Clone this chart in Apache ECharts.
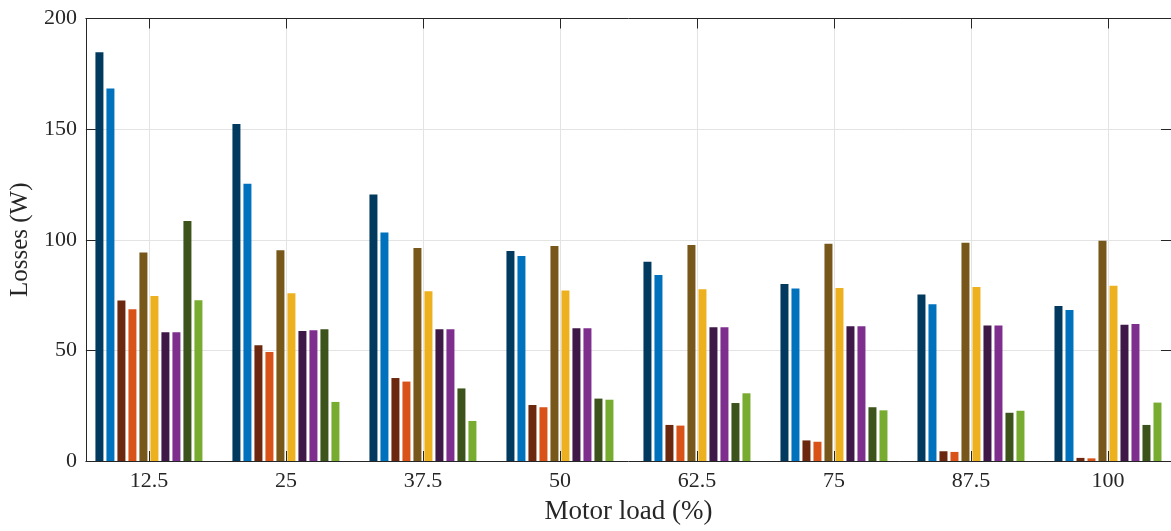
<!DOCTYPE html>
<html>
<head>
<meta charset="utf-8">
<script src="https://cdn.jsdelivr.net/npm/echarts@6/dist/echarts.min.js"></script>
<style>
html,body{margin:0;padding:0;background:#fff;}
#chart{width:1171px;height:531px;}
</style>
</head>
<body>
<div id="chart"></div>
<script>
// Motor load categories (%)
const loads = [12.5, 25, 37.5, 50, 62.5, 75, 87.5, 100];
const yTicks = [0, 50, 100, 150, 200];

// Losses (W) per series, one value per motor load
const s1  = [184.7, 152.3, 120.5, 94.9, 90.1, 80.0, 75.3, 70.1];
const s2  = [168.4, 125.3, 103.3, 92.7, 84.1, 78.0, 70.8, 68.2];
const s3  = [72.5, 52.3, 37.5, 25.3, 16.3, 9.3, 4.4, 1.4];
const s4  = [68.6, 49.3, 35.9, 24.3, 16.0, 8.7, 4.1, 1.2];
const s5  = [94.2, 95.2, 96.3, 97.2, 97.6, 98.2, 98.7, 99.6];
const s6  = [74.6, 75.8, 76.7, 77.1, 77.6, 78.2, 78.6, 79.2];
const s7  = [58.2, 58.8, 59.5, 60.0, 60.4, 60.9, 61.2, 61.6];
const s8  = [58.2, 59.1, 59.5, 60.0, 60.4, 60.9, 61.2, 61.9];
const s9  = [108.5, 59.5, 32.8, 28.2, 26.2, 24.3, 21.8, 16.3];
const s10 = [72.6, 26.7, 18.1, 27.7, 30.6, 22.9, 22.7, 26.4];

const seriesData = [s1, s2, s3, s4, s5, s6, s7, s8, s9, s10];
const colors = ['#013A5E', '#0072BD', '#6B280E', '#D95319', '#77571A', '#EDB120', '#3E1846', '#7E2F8E', '#3C531C', '#77AC30'];

const FONT = '"Liberation Serif", "Times New Roman", serif';
const AX = '#262626';

const chart = echarts.init(document.getElementById('chart'), null, {renderer: 'canvas'});

const series = seriesData.map((arr, i) => ({
  type: 'bar',
  name: 'S' + (i + 1),
  xAxisIndex: 0,
  yAxisIndex: 0,
  data: arr.map((v, k) => [loads[k], v]),
  barWidth: 8,
  barGap: '37.5%',
  itemStyle: {color: colors[i]},
  animation: false
}));

chart.setOption({
  backgroundColor: '#fff',
  animation: false,
  grid: {left: 83.5, top: 18.5, width: 1090, height: 442.5, containLabel: false},
  xAxis: [{
    type: 'value',
    position: 'bottom',
    min: 6.75, max: 105.75,
    name: 'Motor load (%)',
    nameLocation: 'middle',
    nameGap: 37,
    nameTextStyle: {fontFamily: FONT, fontSize: 27, color: AX},
    axisLine: {show: true, onZero: false, lineStyle: {color: AX, width: 1}},
    axisTick: {show: true, inside: true, length: 10, customValues: loads, lineStyle: {color: AX}},
    axisLabel: {show: true, customValues: loads, margin: 9, fontFamily: FONT, fontSize: 22, color: AX},
    splitLine: {show: true, lineStyle: {color: '#e3e3e3', width: 1}},
    minorTick: {show: false}
  }, {
    type: 'value',
    position: 'top',
    min: 6.75, max: 105.75,
    axisLine: {show: true, onZero: false, lineStyle: {color: AX, width: 1}},
    axisTick: {show: true, inside: true, length: 10, customValues: loads, lineStyle: {color: AX}},
    axisLabel: {show: false},
    splitLine: {show: false}
  }],
  yAxis: [{
    type: 'value',
    position: 'left',
    min: 0, max: 200, interval: 50,
    name: 'Losses (W)',
    nameLocation: 'middle',
    nameGap: 50,
    nameTextStyle: {fontFamily: FONT, fontSize: 25, color: AX},
    axisLine: {show: true, lineStyle: {color: AX, width: 1}},
    axisTick: {show: true, inside: true, length: 10, lineStyle: {color: AX}},
    axisLabel: {margin: 9, fontFamily: FONT, fontSize: 22, color: AX},
    splitLine: {show: true, lineStyle: {color: '#e3e3e3', width: 1}}
  }, {
    type: 'value',
    position: 'right',
    min: 0, max: 200, interval: 50,
    axisLine: {show: true, lineStyle: {color: AX, width: 1}},
    axisTick: {show: true, inside: true, length: 10, lineStyle: {color: AX}},
    axisLabel: {show: false},
    splitLine: {show: false}
  }],
  series: series
});
</script>
</body>
</html>
